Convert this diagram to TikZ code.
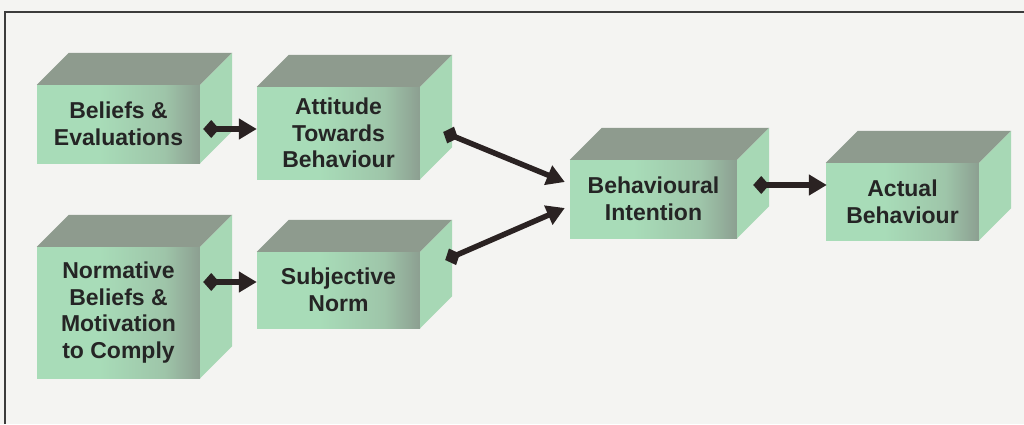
\documentclass[tikz,border=0pt]{standalone}
\usepackage{fontspec}
\setmainfont{Liberation Sans}
\usetikzlibrary{arrows.meta}

% palette
\definecolor{paper}{HTML}{F4F4F2}
\definecolor{frameline}{HTML}{3C3C3C}
\definecolor{frontL}{HTML}{A8DCB8}
\definecolor{frontM}{HTML}{9EC5A9}
\definecolor{frontR}{HTML}{8C9F91}
\definecolor{topface}{HTML}{8E9B8E}
\definecolor{sideface}{HTML}{A7D8B5}
\definecolor{ink}{HTML}{252525}
\definecolor{arrowink}{HTML}{2A2222}

% front face: light mint on the left, turning grey towards the right edge
\pgfdeclarehorizontalshading{frontshade}{100bp}{color(0bp)=(frontL); color(25bp)=(frontL); color(44bp)=(frontL); color(64bp)=(frontM); color(75bp)=(frontR); color(100bp)=(frontR)}

\tikzset{
  cube/.style={rectangle, inner sep=0pt, shading=frontshade, align=center,
    text=ink, font=\bfseries\fontsize{23}{26.7}\selectfont},
  conn/.style={line width=5.5pt, draw=arrowink,
    {Diamond[length=16pt,width=18pt]}-{Triangle[length=18pt,width=20pt]}},
}

\begin{document}
\begin{tikzpicture}[x=1pt,y=1pt]
  % page and frame
  \fill[paper] (0,0) rectangle (1024,-424);
  \useasboundingbox (0,0) rectangle (1024,-424);
  \draw[frameline, line width=1.5pt] (5,-424) -- (5,-12) -- (1024,-12);

  % front faces of the blocks
  \node[cube, minimum width=163, minimum height=78]  (b1) at (118.5,-124)   {Beliefs \&\\Evaluations};
  \node[cube, minimum width=163, minimum height=92]  (b2) at (338.5,-133)   {Attitude\\Towards\\Behaviour};
  \node[cube, minimum width=163, minimum height=131] (b3) at (118.5,-312.5) {Normative\\Beliefs \&\\Motivation\\to Comply};
  \node[cube, minimum width=163, minimum height=76]  (b4) at (338.5,-290)   {Subjective\\Norm};
  \node[cube, minimum width=167, minimum height=78]  (b5) at (653.5,-199)   {Behavioural\\Intention};
  \node[cube, minimum width=153, minimum height=77]  (b6) at (902.5,-201.5) {Actual\\Behaviour};

  % top and right faces give each block its depth
  \foreach \n in {b1,b2,b3,b4,b5,b6}{
    \fill[topface] (\n.north west) -- ++(32,32) -- ([shift={(32,32)}]\n.north east) -- (\n.north east) -- cycle;
    \fill[sideface] (\n.north east) -- ++(32,32) -- ([shift={(32,32)}]\n.south east) -- (\n.south east) -- cycle;
  }

  % connectors
  \draw[conn] ([shift={(3,-5)}]b1.east)   -- ([yshift=4]b2.west);
  \draw[conn] ([shift={(3,30.5)}]b3.east) -- ([yshift=8]b4.west);
  \draw[conn] ([shift={(23,1)}]b2.east)   -- ([shift={(-5,17)}]b5.west);
  \draw[conn] ([shift={(25,30)}]b4.east)  -- ([shift={(-5,-9)}]b5.west);
  \draw[conn] ([shift={(16,14)}]b5.east)  -- ([shift={(1,16.5)}]b6.west);
\end{tikzpicture}
\end{document}
